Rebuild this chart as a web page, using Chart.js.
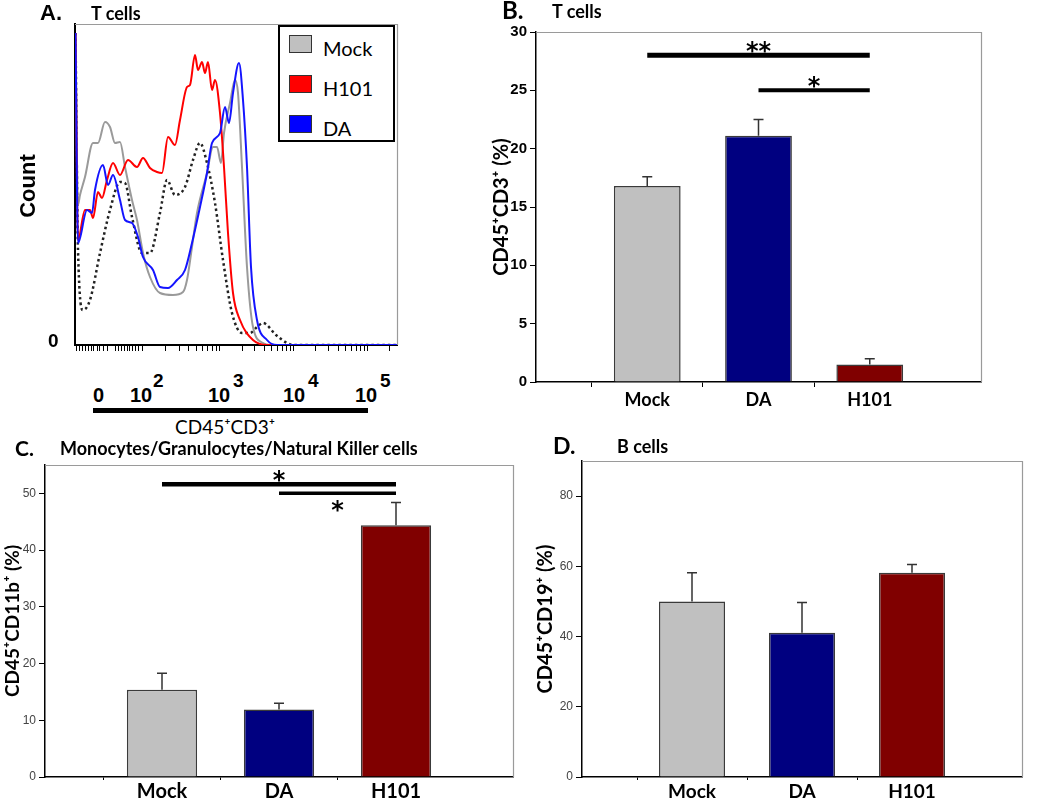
<!DOCTYPE html>
<html>
<head>
<meta charset="utf-8">
<script src="https://cdn.jsdelivr.net/npm/chart.js@4.4.1/dist/chart.umd.min.js"></script>
<style>
  body { margin: 0; background: #fff; }
  #fig { position: relative; width: 1050px; height: 798px; overflow: hidden; background: #fff; }
  #fig canvas { position: absolute; }
  .t { position: absolute; white-space: nowrap; line-height: 1; color: #000; }
  .cal { font-family: Lato, "Open Sans", sans-serif; font-weight: 700; }
  .ar { font-family: "Liberation Sans", Arial, sans-serif; font-weight: 700; }
  .leg { position: absolute; left: 278px; top: 25px; width: 113px; height: 113px; border: 2px solid #000; background: #fff; }
  .sw { position: absolute; left: 9px; width: 21px; height: 16px; border: 1.5px solid #333; }
  .lt { position: absolute; left: 43px; font-family: Lato, "Open Sans", sans-serif; font-size: 20px; line-height: 1; }
</style>
</head>
<body>
<div id="fig">
  <canvas id="cA" width="410" height="370" style="left:0;top:0"></canvas>
  <canvas id="cB" width="610" height="420" style="left:440px;top:0"></canvas>
  <canvas id="cC" width="530" height="358" style="left:0;top:440px"></canvas>
  <canvas id="cD" width="520" height="358" style="left:530px;top:440px"></canvas>

  <!-- panel A text -->
  <div class="t ar" style="left:40px;top:2px;font-size:22px">A.</div>
  <div class="t cal" style="left:91px;top:4px;font-size:18px">T cells</div>
  <div class="t ar" style="left:28px;top:186px;font-size:22px;transform:translate(-50%,-50%) rotate(-90deg)">Count</div>
  <div class="t ar" style="left:48px;top:331px;font-size:19px">0</div>
  <div class="t ar" style="left:93px;top:385px;font-size:20px">0</div>
  <div class="t ar" style="left:130px;top:385px;font-size:20px">10</div>
  <div class="t ar" style="left:153px;top:371px;font-size:19px">2</div>
  <div class="t ar" style="left:208px;top:385px;font-size:20px">10</div>
  <div class="t ar" style="left:233px;top:371px;font-size:19px">3</div>
  <div class="t ar" style="left:283px;top:385px;font-size:20px">10</div>
  <div class="t ar" style="left:308px;top:371px;font-size:19px">4</div>
  <div class="t ar" style="left:355px;top:385px;font-size:20px">10</div>
  <div class="t ar" style="left:380px;top:371px;font-size:19px">5</div>
  <div style="position:absolute;left:93px;top:408px;width:275px;height:5px;background:#000"></div>
  <div class="t" style="left:175px;top:417px;font-size:19px;font-family:Lato,'Open Sans',sans-serif">CD45⁺CD3⁺</div>
  <div class="leg">
    <div class="sw" style="top:8px;background:#c0c0c0"></div><div class="lt" style="top:11px">Mock</div>
    <div class="sw" style="top:48px;background:#ff0000"></div><div class="lt" style="top:51px">H101</div>
    <div class="sw" style="top:88px;background:#0000ff"></div><div class="lt" style="top:91px">DA</div>
  </div>

  <!-- panel B / C / D headers -->
  <div class="t cal" style="left:502px;top:-2px;font-size:24px">B.</div>
  <div class="t cal" style="left:552px;top:2px;font-size:18px">T cells</div>
  <div class="t cal" style="left:15px;top:437px;font-size:21px">C.</div>
  <div class="t cal" style="left:60px;top:439px;font-size:18px">Monocytes/Granulocytes/Natural Killer cells</div>
  <div class="t cal" style="left:553px;top:434px;font-size:23px">D.</div>
  <div class="t cal" style="left:617px;top:437px;font-size:18px">B cells</div>
</div>

<script>
// groups and colours shared by the bar panels
const GROUPS = ['Mock', 'DA', 'H101'];
const BAR_COLORS = ['#c0c0c0', '#000080', '#800000'];

// B: CD45+CD3+ T cells (%)
const T_CELLS = [16.8, 21.1, 1.5];
const T_CELLS_ERR = [0.8, 1.4, 0.5];
// C: CD45+CD11b+ (%)
const MYELOID = [15.4, 11.9, 44.4];
const MYELOID_ERR = [2.9, 1.1, 4.0];
// D: CD45+CD19+ B cells (%)
const B_CELLS = [50.0, 41.1, 58.2];
const B_CELLS_ERR = [8.2, 8.6, 2.3];

// significance brackets [from, to, line value, label, label value, line width]
const SIG_B = [['Mock', 'H101', 28, '**', 28.9, 5], ['DA', 'H101', 25, '*', 25.9, 4]];
const SIG_C = [['Mock', 'H101', 51.6, '*', 53.4, 4.5], ['DA', 'H101', 50, '*', 48.1, 3.5]];

// A: flow histogram, CD45+CD3+ channel vs count
const HIST_MOCK = [[0.5,312],[3,140],[5,150],[10,168],[18,202],[23,202],[30,223],[35,218],[40,202],[45,203],[50,178],[57,145],[62,125],[68,92],[75,68],[85,52],[98,50],[108,53],[112,65],[117,98],[122,132],[132,172],[138,198],[142,198],[146,182],[149,212],[155,242],[160,265],[163,252],[167,178],[172,78],[178,18],[188,2],[195,0],[322,0]];
const HIST_H101 = [[0.5,312],[3,105],[10,135],[15,135],[18,127],[23,153],[27,147],[32,165],[38,182],[45,170],[53,185],[62,178],[68,187],[75,177],[82,173],[87,172],[93,208],[100,200],[105,225],[112,258],[115,260],[120,290],[123,275],[127,283],[130,272],[133,283],[137,255],[140,265],[145,232],[149,178],[153,112],[158,52],[165,25],[178,5],[192,0],[322,0]];
const HIST_DA = [[0.5,312],[3,102],[12,135],[17,132],[20,155],[28,180],[33,160],[38,170],[45,145],[50,125],[57,122],[63,108],[68,88],[78,75],[85,58],[93,57],[102,65],[110,75],[117,102],[125,138],[132,172],[137,202],[145,212],[150,238],[154,222],[158,252],[164,282],[168,245],[172,178],[176,78],[182,25],[192,5],[202,0],[322,0]];
const HIST_CTRL = [[0.5,312],[3,95],[8,35],[15,45],[25,92],[35,135],[45,163],[50,162],[57,128],[67,92],[75,92],[85,132],[92,165],[100,150],[110,158],[118,185],[125,202],[132,182],[140,142],[148,85],[157,32],[167,12],[175,12],[182,18],[188,22],[201,10],[212,2],[218,0],[322,0]];
// biexponential tick marks along the channel axis
const A_TICKS = [1,4,7,10,13,16,18,22,24,28,32,40,43,46,49,52,54,57,60,63,67,90,104,113,121,127,132,137,141,144,167,180,189,196,202,207,211,215,218,240,253,263,270,276,281,285,289,292,314];

Chart.defaults.font.family = 'Lato, "Open Sans", sans-serif';
Chart.defaults.color = '#000';

const framePlugin = {
  id: 'frame',
  afterDraw(chart) {
    const { ctx, chartArea: a } = chart;
    ctx.save();
    ctx.strokeStyle = '#9a9a9a';
    ctx.lineWidth = 1.2;
    ctx.beginPath();
    ctx.moveTo(a.left, a.top + 0.5);
    ctx.lineTo(a.right + 0.5, a.top + 0.5);
    ctx.lineTo(a.right + 0.5, a.bottom);
    ctx.stroke();
    ctx.restore();
  }
};

const errorBarPlugin = {
  id: 'errorBars',
  afterDatasetsDraw(chart, args, opts) {
    const errs = opts.errors;
    if (!errs) return;
    const { ctx, scales: { y } } = chart;
    const vals = chart.data.datasets[0].data;
    ctx.save();
    ctx.strokeStyle = '#333';
    ctx.lineWidth = 1.5;
    chart.getDatasetMeta(0).data.forEach((bar, i) => {
      if (errs[i] == null || vals[i] == null) return;
      const top = y.getPixelForValue(vals[i] + errs[i]);
      ctx.beginPath();
      ctx.moveTo(bar.x, bar.y);
      ctx.lineTo(bar.x, top);
      ctx.moveTo(bar.x - 5, top);
      ctx.lineTo(bar.x + 5, top);
      ctx.stroke();
    });
    ctx.restore();
  }
};

const sigPlugin = {
  id: 'sig',
  afterDatasetsDraw(chart, args, opts) {
    const { ctx, scales: { x, y } } = chart;
    const labels = chart.data.labels;
    (opts.items || []).forEach(([from, to, v, text, tv, lw]) => {
      const x1 = x.getPixelForValue(labels.indexOf(from));
      const x2 = x.getPixelForValue(labels.indexOf(to));
      const yy = y.getPixelForValue(v);
      ctx.save();
      ctx.strokeStyle = '#000';
      ctx.lineWidth = lw;
      ctx.beginPath();
      ctx.moveTo(x1, yy);
      ctx.lineTo(x2, yy);
      ctx.stroke();
      ctx.fillStyle = '#000';
      ctx.font = 'bold 24px "DejaVu Sans"';
      ctx.textAlign = 'center';
      ctx.textBaseline = 'alphabetic';
      ctx.fillText(text, (x1 + x2) / 2, y.getPixelForValue(tv) + 14);
      ctx.restore();
    });
  }
};

const fixW = w => s => { s.width = w; };
const fixH = h => s => { s.height = h; };
const pts = arr => arr.map(([x, y]) => ({ x, y }));

// A: histogram overlay
new Chart(document.getElementById('cA'), {
  type: 'line',
  data: {
    datasets: [
      { label: 'DA', data: pts(HIST_DA), borderColor: '#1414ff', borderWidth: 2 },
      { label: 'H101', data: pts(HIST_H101), borderColor: '#ff0000', borderWidth: 2 },
      { label: 'Mock', data: pts(HIST_MOCK), borderColor: '#9a9a9a', borderWidth: 2 },
      { label: 'Control', data: pts(HIST_CTRL), borderColor: '#222', borderWidth: 2.5, borderDash: [2.5, 3] }
    ]
  },
  options: {
    responsive: false, animation: false, devicePixelRatio: 1,
    layout: { padding: { left: 0, top: 24, right: 13, bottom: 0 } },
    elements: { point: { radius: 0 }, line: { cubicInterpolationMode: 'monotone', fill: false } },
    plugins: { legend: { display: false }, tooltip: { enabled: false } },
    scales: {
      x: {
        type: 'linear', min: 0, max: 322,
        afterFit: fixH(25),
        afterBuildTicks: s => { s.ticks = A_TICKS.map(v => ({ value: v })); },
        border: { color: '#000', width: 2 },
        grid: { drawOnChartArea: false, tickLength: 6, tickColor: '#000' },
        ticks: { display: false }
      },
      y: {
        min: 0, max: 321,
        afterFit: fixW(75),
        border: { color: '#000', width: 2 },
        grid: { display: false },
        ticks: { display: false }
      }
    }
  },
  plugins: [framePlugin]
});

function barPanel(id, values, errs, o) {
  return new Chart(document.getElementById(id), {
    type: 'bar',
    data: {
      labels: ['', ...GROUPS, ''],
      datasets: [{
        data: [null, ...values, null],
        backgroundColor: ['#fff', ...BAR_COLORS, '#fff'],
        borderColor: '#3a3a3a', borderWidth: 1.5,
        barPercentage: 0.6, categoryPercentage: 1
      }]
    },
    options: {
      responsive: false, animation: false, devicePixelRatio: 1,
      layout: { padding: o.padding },
      plugins: {
        legend: { display: false }, tooltip: { enabled: false },
        errorBars: { errors: [null, ...errs, null] },
        sig: { items: o.sig }
      },
      scales: {
        x: {
          offset: false,
          afterFit: fixH(o.xh),
          border: { color: '#000', width: 1.5 },
          grid: { drawOnChartArea: false, tickLength: o.xTick, tickColor: c => (c.tick && c.tick.label ? '#000' : 'rgba(0,0,0,0)') },
          ticks: { font: { weight: 'bold', size: o.xFont }, padding: o.xPad, maxRotation: 0, autoSkip: false }
        },
        y: {
          min: 0, max: o.max,
          afterFit: fixW(o.yw),
          border: { color: '#000', width: 1.5 },
          grid: { drawOnChartArea: false, tickLength: 6, tickColor: '#000' },
          ticks: { stepSize: o.step, includeBounds: false, font: o.yFont, color: o.yColor, padding: 3 },
          title: { display: true, text: o.title, font: { weight: 'bold', size: o.titleSize }, padding: { top: o.titlePad, bottom: 0 } }
        }
      }
    },
    plugins: [framePlugin, errorBarPlugin, sigPlugin]
  });
}

const arialSmall = { family: '"Liberation Sans", Arial, sans-serif', size: 12 };

barPanel('cB', T_CELLS, T_CELLS_ERR, {
  padding: { left: 0, top: 32, right: 69, bottom: 0 }, xh: 38, yw: 96,
  max: 30, step: 5, yFont: { family: '"Liberation Sans", Arial, sans-serif', size: 15, weight: 'bold' }, yColor: '#000',
  xFont: 18, xTick: 5, xPad: 2,
  title: 'CD45⁺CD3⁺ (%)', titleSize: 20, titlePad: 50, sig: SIG_B
});

barPanel('cC', MYELOID, MYELOID_ERR, {
  padding: { left: 0, top: 25, right: 17, bottom: 0 }, xh: 21, yw: 45,
  max: 55, step: 10, yFont: arialSmall, yColor: '#444',
  xFont: 20, xTick: 3, xPad: 0,
  title: 'CD45⁺CD11b⁺ (%)', titleSize: 19, titlePad: 1, sig: SIG_C
});

barPanel('cD', B_CELLS, B_CELLS_ERR, {
  padding: { left: 0, top: 21, right: 28, bottom: 0 }, xh: 21, yw: 52,
  max: 90, step: 20, yFont: arialSmall, yColor: '#444',
  xFont: 19, xTick: 3, xPad: 0,
  title: 'CD45⁺CD19⁺ (%)', titleSize: 20, titlePad: 4, sig: []
});
</script>
</body>
</html>
